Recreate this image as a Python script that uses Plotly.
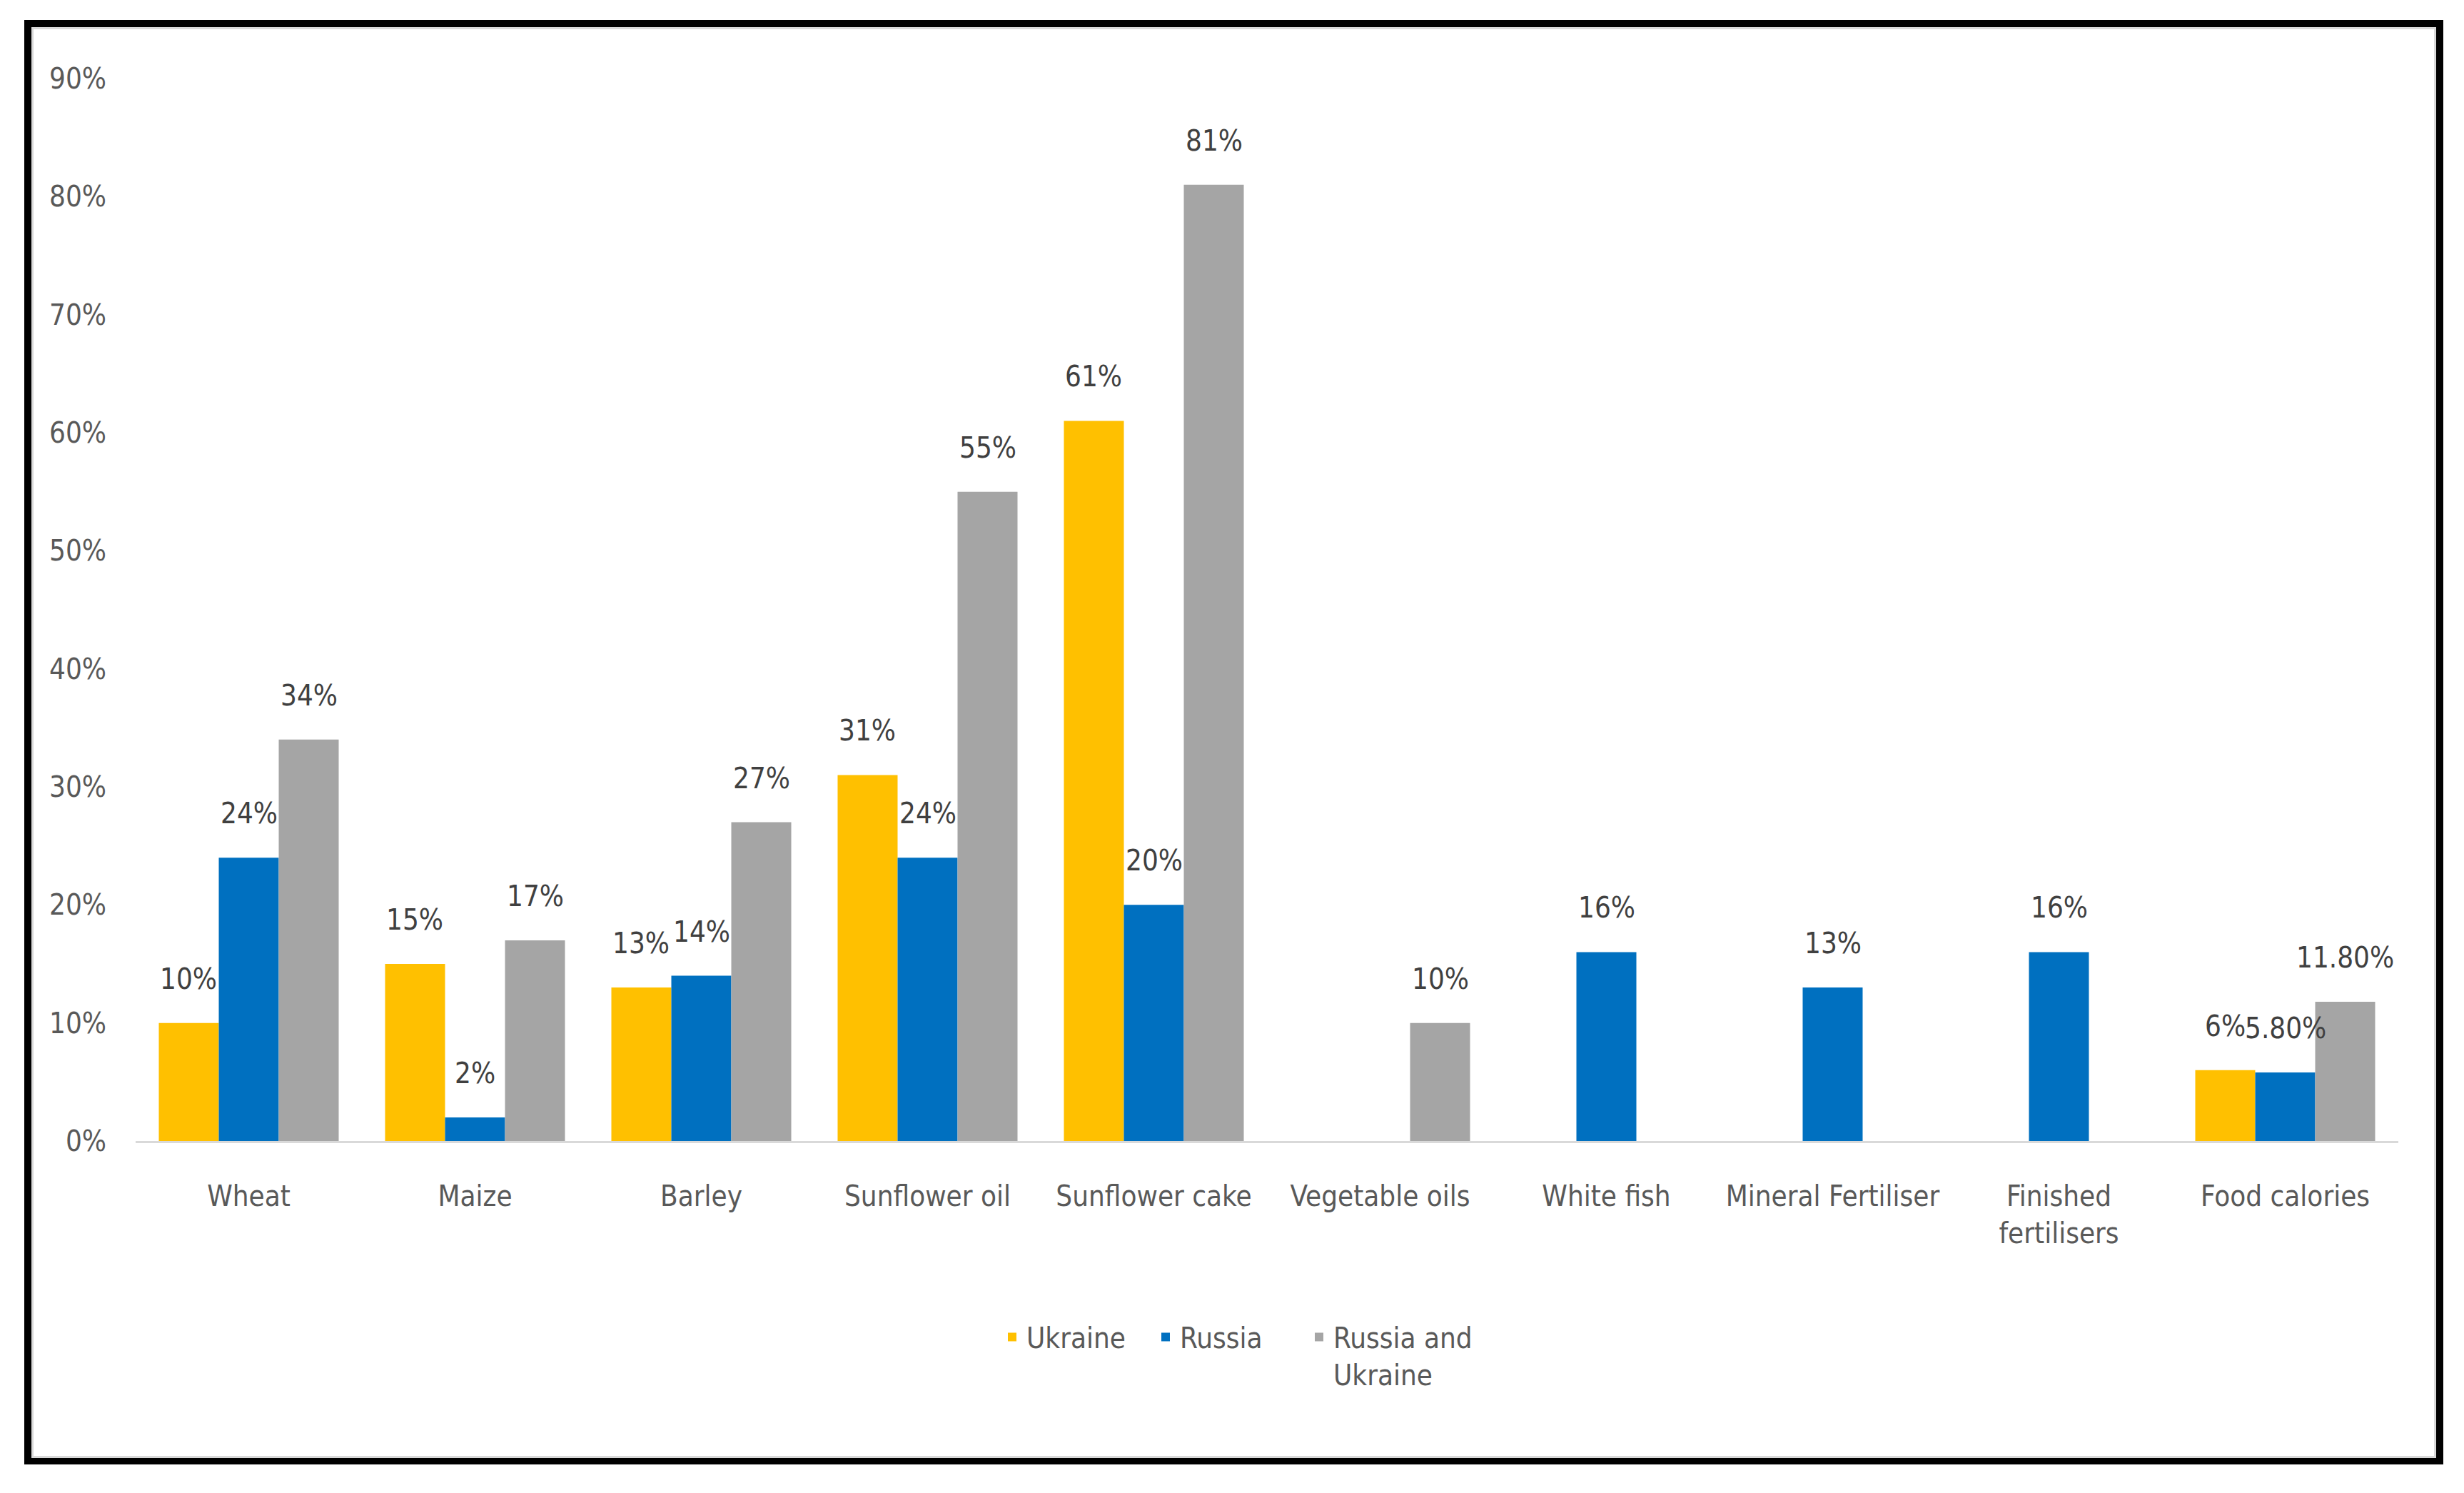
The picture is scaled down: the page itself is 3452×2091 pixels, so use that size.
import plotly.graph_objects as go

categories = ["Wheat", "Maize", "Barley", "Sunflower oil", "Sunflower cake",
              "Vegetable oils", "White fish", "Mineral Fertiliser",
              "Finished<br>fertilisers", "Food calories"]
series_names = ["Ukraine", "Russia", "Russia and<br>Ukraine"]
ukraine = [10, 15, 13, 31, 61, None, None, None, None, 6]
russia = [24, 2, 14, 24, 20, None, 16, 13, 16, 5.8]
russia_ukraine = [34, 17, 27, 55, 81, 10, None, None, None, 11.8]
ukraine_labels = ["10%", "15%", "13%", "31%", "61%", None, None, None, None, "6%"]
russia_labels = ["24%", "2%", "14%", "24%", "20%", None, "16%", "13%", "16%", "5.80%"]
ru_labels = ["34%", "17%", "27%", "55%", "81%", "10%", None, None, None, "11.80%"]
y_ticks = [0, 10, 20, 30, 40, 50, 60, 70, 80, 90]
y_tick_text = ["0%", "10%", "20%", "30%", "40%", "50%", "60%", "70%", "80%", "90%"]

colors = ["#FFC000", "#0070C0", "#A5A5A5"]
FONT = "DejaVu Sans Condensed, Liberation Sans Narrow, sans-serif"
FS = 40

W, H = 3452, 2091
OFF = 8  # page body margin offset
PL, PR, PT, PB = 190 - OFF, 3360 - OFF, 110 - OFF, 1598 - OFF
pw, ph = PR - PL, PB - PT
BARGAP = 0.205

fig = go.Figure()
all_vals = [ukraine, russia, russia_ukraine]
all_labels = [ukraine_labels, russia_labels, ru_labels]
for name, vals, col in zip(series_names, all_vals, colors):
    fig.add_trace(go.Bar(x=categories, y=vals, name=name,
                         marker=dict(color=col, line=dict(width=0))))

# invisible spacer entry so the last legend item is not clipped
fig.add_trace(go.Scatter(x=[None], y=[None], name=" ", mode="markers",
                         marker=dict(color="rgba(0,0,0,0)"), hoverinfo="skip"))

cat_w = pw / len(categories)
bar_w = cat_w * (1 - BARGAP) / 3
for si, (vals, labs) in enumerate(zip(all_vals, all_labels)):
    for c, v, t in zip(categories, vals, labs):
        if v is None or t is None:
            continue
        fig.add_annotation(x=c, y=v, text=t, showarrow=False,
                           xshift=(si - 1) * bar_w, yanchor="bottom", yshift=37,
                           font=dict(family=FONT, size=FS, color="#404040"))

def px_x(p):
    return (p - OFF - PL) / pw

def px_y(p):
    return (PB - (p - OFF)) / ph

# outer black frame
fig.add_shape(type="rect", xref="paper", yref="paper",
              x0=px_x(39), x1=px_x(3418), y0=px_y(2046), y1=px_y(33),
              line=dict(color="black", width=10), layer="above")
# inner light frame
fig.add_shape(type="rect", xref="paper", yref="paper",
              x0=px_x(45.5), x1=px_x(3411.5), y0=px_y(2040.5), y1=px_y(39.5),
              line=dict(color="#D9D9D9", width=3), layer="above")

fig.update_layout(
    width=W, height=H,
    margin=dict(l=PL, r=W - PR, t=PT, b=H - PB, pad=0),
    paper_bgcolor="white", plot_bgcolor="white",
    barmode="group", bargap=BARGAP, bargroupgap=0,
    font=dict(family=FONT, size=FS, color="#595959"),
    showlegend=True,
    legend=dict(orientation="h", x=px_x(1398), xanchor="left",
                y=px_y(1840), yanchor="top", valign="top",
                font=dict(family=FONT, size=FS, color="#595959"),
                itemwidth=30, tracegroupgap=0, entrywidth=170,
                entrywidthmode="pixels", itemclick=False),
    xaxis=dict(showline=True, linecolor="#D9D9D9", linewidth=3,
               showgrid=False, ticks="", ticklabelstandoff=40, tickangle=0,
               tickfont=dict(family=FONT, size=FS, color="#595959")),
    yaxis=dict(range=[0, 90], tickvals=y_ticks, ticktext=y_tick_text,
               showgrid=False, zeroline=False, showline=False, ticks="",
               ticklabelstandoff=40,
               tickfont=dict(family=FONT, size=FS, color="#595959")),
)

fig.write_html("out.html")
